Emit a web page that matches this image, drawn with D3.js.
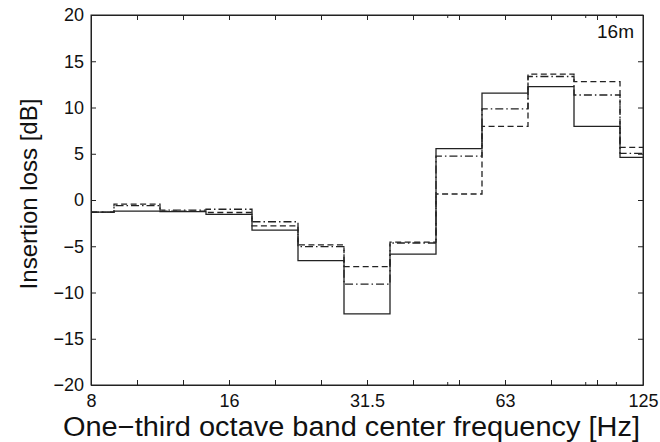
<!DOCTYPE html>
<html>
<head>
<meta charset="utf-8">
<script src="https://cdn.jsdelivr.net/npm/d3@7"></script>
<style>
  body { margin: 0; background: #fff; }
  text { font-family: Arial, "Liberation Sans", sans-serif; fill: #111; }
</style>
</head>
<body>
<div id="my_dataviz"></div>
<script>
// one-third octave bands (nominal labels)
const bands = ["8", "10", "12.5", "16", "20", "25", "31.5", "40", "50", "63", "80", "100", "125"];
const labeledBands = ["8", "16", "31.5", "63", "125"];
const minorTicks = [48, 96, 112];
const yTicks = [-20, -15, -10, -5, 0, 5, 10, 15, 20];

// insertion loss [dB] per band
const solid   = [-1.3, -1.2, -1.25, -1.55, -3.25, -6.55, -12.3, -5.85, 5.55, 11.55, 12.25, 7.95, 4.6];
const dashed  = [-1.3, -0.45, -1.2, -1.35, -2.8, -4.85, -7.2, -4.55, 0.65, 7.95, 13.6, 12.8, 5.7];
const dashDot = [-1.3, -0.6, -1.1, -1.0, -2.35, -5.05, -9.1, -4.65, 4.75, 9.85, 13.35, 11.35, 5.05];

// set the dimensions and margins of the graph
const margin = {top: 15, right: 17, bottom: 57, left: 91},
    width = 660 - margin.left - margin.right,
    height = 442 - margin.top - margin.bottom;

const svg = d3.select("#my_dataviz")
  .append("svg")
    .attr("width", 660)
    .attr("height", 442)
  .append("g")
    .attr("transform", `translate(${margin.left},${margin.top})`);

// exact band centre for each nominal band
const centre = (b) => 8 * Math.pow(2, bands.indexOf(b) / 3);

const x = d3.scaleLog()
  .domain([8, 128])
  .range([0, width]);

const y = d3.scaleLinear()
  .domain([-20, 20])
  .range([height, 0]);

const ink = "#222";

// x axis bottom + top (ticks inside)
svg.append("g")
  .attr("transform", `translate(0, ${height})`)
  .call(d3.axisBottom(x)
    .tickValues(bands.map(centre))
    .tickSizeInner(-5).tickSizeOuter(0)
    .tickFormat((d, i) => labeledBands.includes(bands[i]) ? bands[i] : ""))
  .call(g => g.selectAll("text").attr("y", 9).attr("dy", "0.71em"));

svg.append("g")
  .call(d3.axisTop(x)
    .tickValues(bands.map(centre))
    .tickSizeInner(-5).tickSizeOuter(0)
    .tickFormat(""));

// minor ticks
[0, height].forEach(function(yy) {
  svg.append("g").selectAll("line")
    .data(minorTicks)
    .join("line")
      .attr("x1", d => x(d)).attr("x2", d => x(d))
      .attr("y1", yy).attr("y2", yy === 0 ? 3 : yy - 3)
      .attr("stroke", ink);
});

// y axis left + right
svg.append("g")
  .call(d3.axisLeft(y)
    .tickValues(yTicks)
    .tickSizeInner(-5).tickSizeOuter(0)
    .tickFormat(d => d < 0 ? "\u2212" + Math.abs(d) : d))
  .call(g => g.selectAll("text").attr("x", -7));

svg.append("g")
  .attr("transform", `translate(${width}, 0)`)
  .call(d3.axisRight(y)
    .tickValues(yTicks)
    .tickSizeInner(-5).tickSizeOuter(0)
    .tickFormat(""));

svg.selectAll(".domain, .tick line").attr("stroke", ink);
svg.selectAll(".tick text")
  .style("font-size", "18px")
  .style("fill", "#111")
  .style("font-family", "Arial, 'Liberation Sans', sans-serif");

// box
svg.append("rect")
  .attr("width", width)
  .attr("height", height)
  .attr("fill", "none")
  .attr("stroke", ink)
  .attr("stroke-width", 1);

// step lines
const stairs = d3.line()
  .x((d, i) => x(centre(bands[i])))
  .y(d => y(d))
  .curve(d3.curveStep);

[
  {values: dashed, dash: "6,3.5"},
  {values: dashDot, dash: "8,3,1.5,3"},
  {values: solid, dash: null}
].forEach(function(s) {
  svg.append("path")
    .datum(s.values)
    .attr("fill", "none")
    .attr("stroke", ink)
    .attr("stroke-width", 1.3)
    .attr("stroke-dasharray", s.dash)
    .attr("d", stairs);
});

// in-plot label
svg.append("text")
  .attr("x", width - 9)
  .attr("y", 23)
  .attr("text-anchor", "end")
  .style("font-size", "19px")
  .text("16m");

// axis labels
svg.append("text")
  .attr("text-anchor", "middle")
  .attr("x", (63 + 640) / 2 - margin.left)
  .attr("y", height + 51)
  .attr("textLength", 577)
  .attr("lengthAdjust", "spacingAndGlyphs")
  .style("font-size", "27px")
  .text("One\u2212third octave band center frequency [Hz]");

svg.append("text")
  .attr("text-anchor", "middle")
  .attr("transform", `translate(-54, ${height / 2 - 6}) rotate(-90)`)
  .style("font-size", "24px")
  .text("Insertion loss [dB]");
</script>
</body>
</html>
